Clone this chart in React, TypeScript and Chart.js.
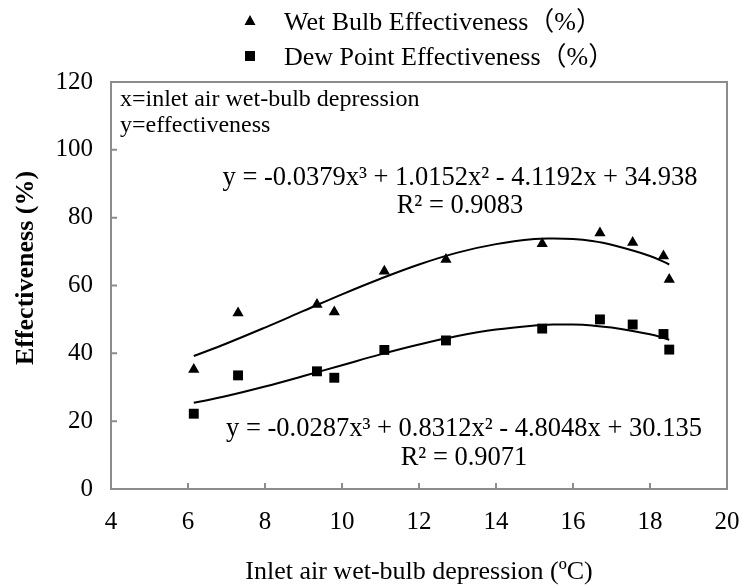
import { useEffect, useRef } from "react";
import { Chart, registerables } from "chart.js";
Chart.register(...registerables);

const FONT = "'Liberation Serif', 'Times New Roman', 'Noto Sans CJK SC', serif";

const seriesNames = ["Wet Bulb Effectiveness（%）", "Dew Point Effectiveness（%）"];
const depressionX = [6.15, 7.3, 9.35, 9.8, 11.1, 12.7, 15.2, 16.7, 17.55, 18.35, 18.5];
const wetBulbEff = [35.2, 51.9, 54.4, 52.2, 64.2, 67.7, 72.3, 75.5, 72.7, 68.7, 61.8];
const dewPointEff = [22.2, 33.5, 34.7, 32.8, 41.0, 43.8, 47.3, 50.0, 48.5, 45.7, 41.1];

// trendline curves
const trendX = [6.15, 7, 8, 9, 10, 11, 12, 13, 14, 15, 15.5, 16, 16.5, 17, 18, 18.5];
const wetTrend = [39.2, 42.9, 47.6, 52.5, 57.4, 62.0, 66.2, 69.7, 72.2, 73.7, 73.85, 73.7, 73.1, 72.0, 68.7, 66.2];
const dewTrend = [25.4, 27.4, 30.2, 33.3, 36.5, 39.7, 42.6, 45.1, 47.0, 48.2, 48.48, 48.49, 48.2, 47.6, 45.6, 44.0];

const xTicks = [4, 6, 8, 10, 12, 14, 16, 18, 20];
const yTicks = [0, 20, 40, 60, 80, 100, 120];

const xTitle = "Inlet air wet-bulb depression (ºC)";
const yTitle = "Effectiveness (%)";
const noteLines = ["x=inlet air wet-bulb depression", "y=effectiveness"];
const wetEquation = ["y = -0.0379x³ + 1.0152x² - 4.1192x + 34.938", "R² = 0.9083"];
const dewEquation = ["y = -0.0287x³ + 0.8312x² - 4.8048x + 30.135", "R² = 0.9071"];

export default function App() {
  const ref = useRef<HTMLCanvasElement>(null);
  useEffect(() => {
    document.body.style.margin = "0";
    const frame = {
      id: "frame",
      beforeDatasetsDraw(chart: any) {
        const { ctx, chartArea: a, scales } = chart;
        ctx.save();
        ctx.strokeStyle = "#8c8c8c";
        ctx.lineWidth = 2;
        ctx.strokeRect(a.left, a.top, a.right - a.left, a.bottom - a.top);
        ctx.beginPath();
        xTicks.slice(1, -1).forEach((v) => {
          const px = scales.x.getPixelForValue(v);
          ctx.moveTo(px, a.bottom);
          ctx.lineTo(px, a.bottom - 6);
        });
        yTicks.slice(1, -1).forEach((v) => {
          const py = scales.y.getPixelForValue(v);
          ctx.moveTo(a.left, py);
          ctx.lineTo(a.left + 6, py);
        });
        ctx.stroke();
        ctx.restore();
      },
      afterDraw(chart: any) {
        const { ctx } = chart;
        ctx.save();
        ctx.fillStyle = "#000";
        ctx.textBaseline = "alphabetic";
        // legend
        ctx.beginPath();
        ctx.moveTo(250, 15);
        ctx.lineTo(255.5, 25);
        ctx.lineTo(244.5, 25);
        ctx.closePath();
        ctx.fill();
        ctx.fillRect(245, 51, 10, 10);
        ctx.font = `26px ${FONT}`;
        ctx.textAlign = "left";
        ctx.fillText(seriesNames[0], 284, 30);
        ctx.fillText(seriesNames[1], 284, 65);
        // notes
        ctx.font = `24px ${FONT}`;
        ctx.fillText(noteLines[0], 120, 106);
        ctx.fillText(noteLines[1], 120, 132);
        // equations
        ctx.font = `26.5px ${FONT}`;
        ctx.textAlign = "center";
        ctx.fillText(wetEquation[0], 460, 185);
        ctx.fillText(wetEquation[1], 460, 213);
        ctx.fillText(dewEquation[0], 464, 436);
        ctx.fillText(dewEquation[1], 464, 465);
        // y axis title
        ctx.translate(33, 268);
        ctx.rotate(-Math.PI / 2);
        ctx.font = `bold 26px ${FONT}`;
        ctx.fillText(yTitle, 0, 0);
        ctx.restore();
      },
    };
    const chart = new Chart(ref.current as HTMLCanvasElement, {
      type: "scatter",
      data: {
        datasets: [
          {
            label: seriesNames[0],
            data: depressionX.map((x, i) => ({ x, y: wetBulbEff[i] })),
            pointStyle: "triangle",
            pointRadius: 6.5,
            backgroundColor: "#000",
            borderColor: "#000",
            borderWidth: 0,
            showLine: false,
          },
          {
            label: seriesNames[1],
            data: depressionX.map((x, i) => ({ x, y: dewPointEff[i] })),
            pointStyle: "rect",
            pointRadius: 7,
            backgroundColor: "#000",
            borderColor: "#000",
            borderWidth: 0,
            showLine: false,
          },
          {
            label: "wet trend",
            data: trendX.map((x, i) => ({ x, y: wetTrend[i] })),
            pointRadius: 0,
            showLine: true,
            borderColor: "#000",
            borderWidth: 2,
            tension: 0.4,
          },
          {
            label: "dew trend",
            data: trendX.map((x, i) => ({ x, y: dewTrend[i] })),
            pointRadius: 0,
            showLine: true,
            borderColor: "#000",
            borderWidth: 2,
            tension: 0.4,
          },
        ],
      } as any,
      options: {
        responsive: false,
        animation: false,
        layout: { padding: { top: 82, right: 15, left: 0, bottom: 0 } },
        plugins: { legend: { display: false }, tooltip: { enabled: false } },
        scales: {
          x: {
            type: "linear",
            min: 4,
            max: 20,
            afterBuildTicks: (s: any) => {
              s.ticks = xTicks.map((v) => ({ value: v }));
            },
            ticks: { color: "#000", font: { family: FONT, size: 25 }, padding: 10 },
            grid: { display: false },
            border: { display: false },
            title: {
              display: true,
              text: xTitle,
              color: "#000",
              font: { family: FONT, size: 26 },
              padding: { top: 0, bottom: -2 },
            },
            afterFit: (s: any) => {
              s.height = 97;
              s.paddingLeft = 0;
              s.paddingRight = 0;
            },
          },
          y: {
            type: "linear",
            min: 0,
            max: 120,
            afterBuildTicks: (s: any) => {
              s.ticks = yTicks.map((v) => ({ value: v }));
            },
            ticks: { color: "#000", font: { family: FONT, size: 25 }, padding: 18 },
            grid: { display: false, drawTicks: false },
            border: { display: false },
            title: { display: false },
            afterFit: (s: any) => {
              s.width = 111;
              s.paddingTop = 0;
              s.paddingBottom = 0;
            },
          },
        },
      } as any,
      plugins: [frame],
    });
    return () => chart.destroy();
  }, []);
  return <canvas ref={ref} width={742} height={586} style={{ display: "block" }} />;
}
